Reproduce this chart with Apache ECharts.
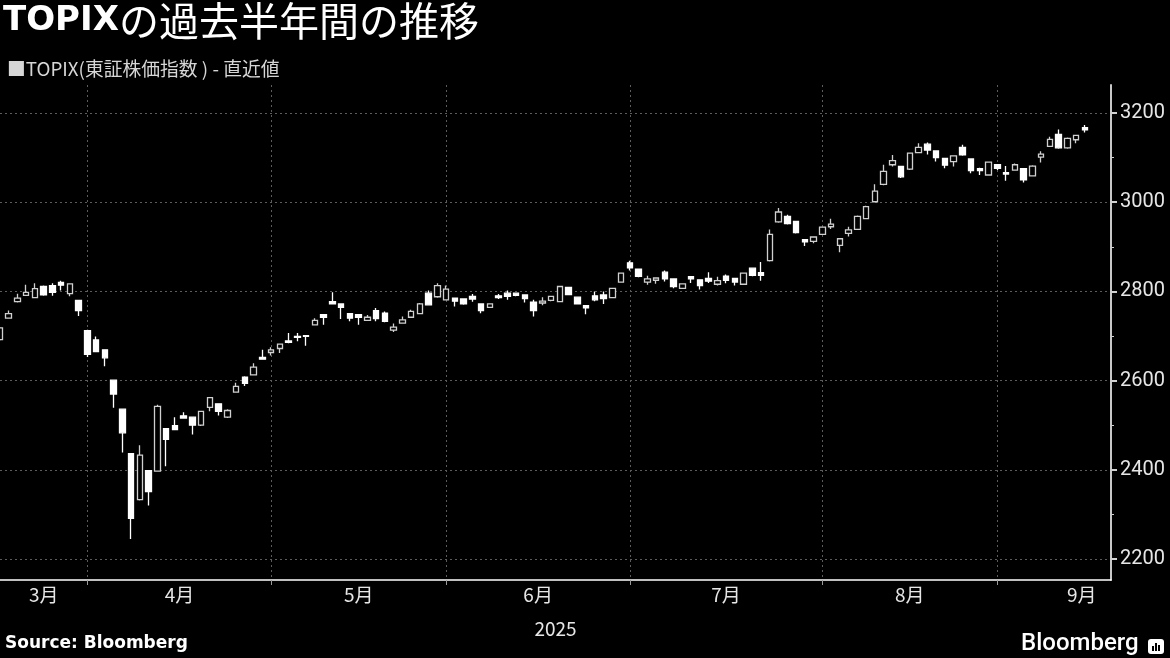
<!DOCTYPE html>
<html>
<head>
<meta charset="utf-8">
<script src="https://cdn.jsdelivr.net/npm/echarts@6/dist/echarts.min.js"></script>
<style>
html,body{margin:0;padding:0;background:#000;}
#chart{width:1170px;height:658px;}
</style>
</head>
<body>
<div id="chart"></div>
<script>
// Trading days (TOPIX), 2025
const dates = [
 '03/14','03/17','03/18','03/19','03/21','03/24','03/25','03/26','03/27','03/28','03/31',
 '04/01','04/02','04/03','04/04','04/07','04/08','04/09','04/10','04/11','04/14','04/15','04/16','04/17','04/18','04/21','04/22','04/23','04/24','04/25','04/28','04/30',
 '05/01','05/02','05/07','05/08','05/09','05/12','05/13','05/14','05/15','05/16','05/19','05/20','05/21','05/22','05/23','05/26','05/27','05/28','05/29','05/30',
 '06/02','06/03','06/04','06/05','06/06','06/09','06/10','06/11','06/12','06/13','06/16','06/17','06/18','06/19','06/20','06/23','06/24','06/25','06/26','06/27','06/30',
 '07/01','07/02','07/03','07/04','07/07','07/08','07/09','07/10','07/11','07/14','07/15','07/16','07/17','07/18','07/22','07/23','07/24','07/25','07/28','07/29','07/30','07/31',
 '08/01','08/04','08/05','08/06','08/07','08/08','08/12','08/13','08/14','08/15','08/18','08/19','08/20','08/21','08/22','08/25','08/26','08/27','08/28','08/29',
 '09/01','09/02','09/03','09/04','09/05','09/08','09/09','09/10','09/11','09/12'
];
const padDates = ['09/16','09/17','09/18'];

const opens = [
 2692,2740,2777,2791,2786,2811,2813,2820,2795,2780,2712,
 2691,2669,2601,2536,2436,2333,2398,2397,2492,2499,2521,2518,2500,2540,2548,2518,2574,2608,2613,2652,2663,
 2672,2689,2699,2701,2725,2748,2777,2772,2750,2748,2735,2757,2751,2713,2729,2742,2750,2796,2788,2781,
 2785,2783,2789,2772,2764,2790,2796,2796,2792,2776,2774,2780,2777,2809,2787,2768,2790,2792,2786,2821,2864,
 2850,2821,2825,2843,2828,2807,2833,2826,2829,2816,2834,2829,2816,2852,2842,2869,2956,2968,2957,2916,2912,2928,
 2945,2903,2930,2939,2963,3001,3040,3084,3080,3074,3111,3130,3115,3098,3091,3123,3097,3075,3061,3084,
 3066,3072,3075,3059,3101,3125,3152,3122,3140,3167
];
const closes = [
 2718,2750,2785,2798,2806,2792,2798,2814,2817,2757,2659,
 2665,2651,2570,2483,2291,2433,2351,2542,2468,2490,2516,2500,2531,2562,2531,2533,2587,2594,2630,2648,2669,
 2682,2686,2697,2699,2735,2742,2772,2764,2740,2742,2742,2739,2733,2720,2736,2755,2772,2770,2813,2805,
 2778,2772,2783,2757,2772,2786,2789,2791,2784,2757,2778,2789,2811,2793,2772,2763,2781,2784,2807,2841,2853,
 2834,2828,2830,2828,2811,2817,2828,2813,2823,2824,2825,2821,2841,2836,2836,2928,2978,2952,2932,2911,2922,2944,
 2951,2918,2938,2968,2990,3025,3069,3093,3057,3110,3123,3117,3100,3083,3104,3106,3071,3071,3090,3076,
 3063,3084,3050,3081,3108,3141,3122,3143,3150,3162
];
const lows = [
 2689,2739,2775,2790,2785,2790,2790,2802,2789,2745,2653,
 2664,2632,2539,2439,2245,2331,2320,2396,2408,2489,2515,2479,2498,2531,2522,2516,2573,2588,2612,2647,2656,
 2662,2684,2688,2678,2724,2725,2771,2738,2733,2725,2734,2733,2731,2709,2728,2741,2749,2769,2786,2780,
 2766,2770,2777,2751,2763,2783,2781,2789,2775,2744,2769,2778,2776,2792,2771,2749,2778,2772,2785,2820,2847,
 2832,2815,2817,2822,2807,2806,2819,2804,2819,2813,2818,2813,2815,2834,2824,2867,2954,2950,2930,2902,2908,2927,
 2940,2888,2923,2938,2962,3000,3038,3080,3054,3072,3110,3107,3091,3076,3080,3104,3065,3061,3060,3072,
 3048,3071,3044,3058,3089,3124,3120,3120,3132,3156
];
const highs = [
 2720,2757,2795,2815,2818,2813,2818,2824,2818,2781,2714,
 2699,2670,2602,2537,2437,2455,2399,2546,2493,2518,2529,2519,2532,2563,2549,2536,2595,2610,2639,2669,2675,
 2683,2707,2707,2702,2740,2749,2798,2773,2751,2749,2747,2763,2755,2728,2744,2759,2774,2802,2818,2813,
 2786,2784,2794,2773,2773,2794,2802,2797,2793,2781,2787,2790,2812,2810,2788,2769,2800,2800,2808,2842,2869,
 2851,2835,2831,2847,2829,2818,2834,2827,2843,2833,2838,2830,2842,2853,2866,2939,2987,2972,2958,2917,2923,2945,
 2963,2919,2945,2970,2992,3040,3084,3106,3081,3111,3132,3134,3116,3099,3105,3129,3098,3077,3091,3085,
 3081,3087,3076,3083,3114,3147,3163,3145,3151,3173
];

const yMin = 2200, yMax = 3200, yStep = 200;
const monthLabels = ['3月','4月','5月','6月','7月','8月','9月'];
const monthEndIdx = [10, 31, 51, 72, 94, 114];
const monthLabelIdx = [5, 20, 41, 61, 83, 104, 124];
const yearLabel = '2025';

const categories = dates.concat(padDates);
const candleData = opens.map((o, i) => [o, closes[i], lows[i], highs[i]]);

// label nudges (half-category offsets)
const labelShift = {1: 'r4', 3: 'r4', 6: 'l3'};
const labelMap = {};
monthLabelIdx.forEach((idx, k) => { labelMap[idx] = k; });

const axisFont = 'Noto Sans CJK JP';
const labelStyleBase = {fontFamily: axisFont, fontSize: 19, color: '#e6e6e6'};

const chart = echarts.init(document.getElementById('chart'), null, {renderer: 'canvas'});
chart.setOption({
  backgroundColor: '#000',
  animation: false,
  title: [
    {
      text: '{a|TOPIX}{b|の過去半年間の推移}',
      left: 3, top: 1, padding: 0,
      textStyle: {
        rich: {
          a: {fontFamily: 'DejaVu Sans', fontWeight: 'bold', fontSize: 34, color: '#ffffff'},
          b: {fontFamily: 'Noto Sans CJK JP', fontWeight: 'normal', fontSize: 40, color: '#ffffff'}
        }
      }
    },
    {
      text: '■TOPIX(東証株価指数 ) - 直近値',
      left: 7, top: 59, padding: 0,
      textStyle: {fontFamily: 'Noto Sans CJK JP', fontWeight: 'normal', fontSize: 18.8, color: '#d6d6d6'}
    },
    {
      text: 'Source: Bloomberg',
      left: 5, top: 635, padding: 0,
      textStyle: {fontFamily: 'DejaVu Sans', fontWeight: 'bold', fontSize: 17, color: '#ffffff'}
    },
    {
      text: 'Bloomberg',
      left: 1021, top: 632, padding: 0,
      textStyle: {fontFamily: 'Roboto', fontWeight: 500, fontSize: 24, color: '#ffffff'}
    }
  ],
  graphic: [
    {type: 'rect', left: 1148, top: 639, shape: {width: 16, height: 15, r: 3}, style: {fill: '#fff'}},
    {type: 'rect', left: 1152, top: 646, shape: {width: 2, height: 5}, style: {fill: '#000'}},
    {type: 'rect', left: 1155, top: 643, shape: {width: 2, height: 8}, style: {fill: '#000'}},
    {type: 'rect', left: 1158, top: 645, shape: {width: 2, height: 6}, style: {fill: '#000'}}
  ],
  grid: [
    {left: 0, right: 59, top: 113, bottom: 99},
    {left: 0, right: 59, top: 85, bottom: 78}
  ],
  xAxis: [
    {gridIndex: 0, type: 'category', data: categories, boundaryGap: false, show: false},
    {
      gridIndex: 1, type: 'category', data: categories, boundaryGap: false,
      axisLine: {show: true, onZero: false, lineStyle: {color: '#ffffff', width: 1.5}},
      axisTick: {show: true, interval: (i) => monthEndIdx.indexOf(i) >= 0, length: 5, lineStyle: {color: '#9a9a9a', width: 1}},
      splitLine: {show: true, interval: (i) => monthEndIdx.indexOf(i) >= 0, lineStyle: {type: [2, 3], color: '#5c5c5c', width: 1}},
      axisLabel: {
        show: true,
        interval: (i) => labelMap[i] !== undefined,
        margin: 5,
        fontFamily: axisFont, fontSize: 19, color: '#e6e6e6',
        formatter: (v, i) => {
          const k = labelMap[i];
          if (k === undefined) return '';
          const s = labelShift[k];
          if (s === 'r4') return '{r|' + monthLabels[k] + '}';
          if (s === 'l3') return '{l|' + monthLabels[k] + '}';
          return '{n|' + monthLabels[k] + '}';
        },
        rich: {
          n: labelStyleBase,
          r: Object.assign({padding: [0, 0, 0, 9]}, labelStyleBase),
          l: Object.assign({padding: [0, 6, 0, 0]}, labelStyleBase)
        }
      },
      name: yearLabel, nameLocation: 'middle', nameGap: 39,
      nameTextStyle: {fontFamily: axisFont, fontSize: 19, color: '#e6e6e6'}
    }
  ],
  yAxis: [
    {
      gridIndex: 0, type: 'value', position: 'right', min: yMin, max: yMax, interval: yStep,
      axisLine: {show: false},
      axisTick: {show: true, length: 6, lineStyle: {color: '#d0d0d0', width: 2}},
      minorTick: {show: true, splitNumber: 2, length: 3, lineStyle: {color: '#d0d0d0', width: 1}},
      axisLabel: {show: true, margin: 9, fontFamily: 'Roboto', fontSize: 20, color: '#e6e6e6', formatter: (v) => String(v)},
      splitLine: {show: true, lineStyle: {type: [2, 3], color: '#5c5c5c', width: 1}}
    },
    {
      gridIndex: 1, type: 'value', position: 'right', min: 0, max: 1,
      axisLine: {show: true, lineStyle: {color: '#c8c8c8', width: 2}},
      axisTick: {show: false}, axisLabel: {show: false}, splitLine: {show: false}
    }
  ],
  series: [
    {
      name: 'TOPIX(東証株価指数 ) - 直近値',
      type: 'candlestick',
      xAxisIndex: 0, yAxisIndex: 0,
      data: candleData,
      barWidth: 6,
      itemStyle: {
        color: '#000000',
        color0: '#ffffff',
        borderColor: '#d0d0d0',
        borderColor0: '#ffffff',
        borderWidth: 1.3
      }
    }
  ]
});
</script>
</body>
</html>
